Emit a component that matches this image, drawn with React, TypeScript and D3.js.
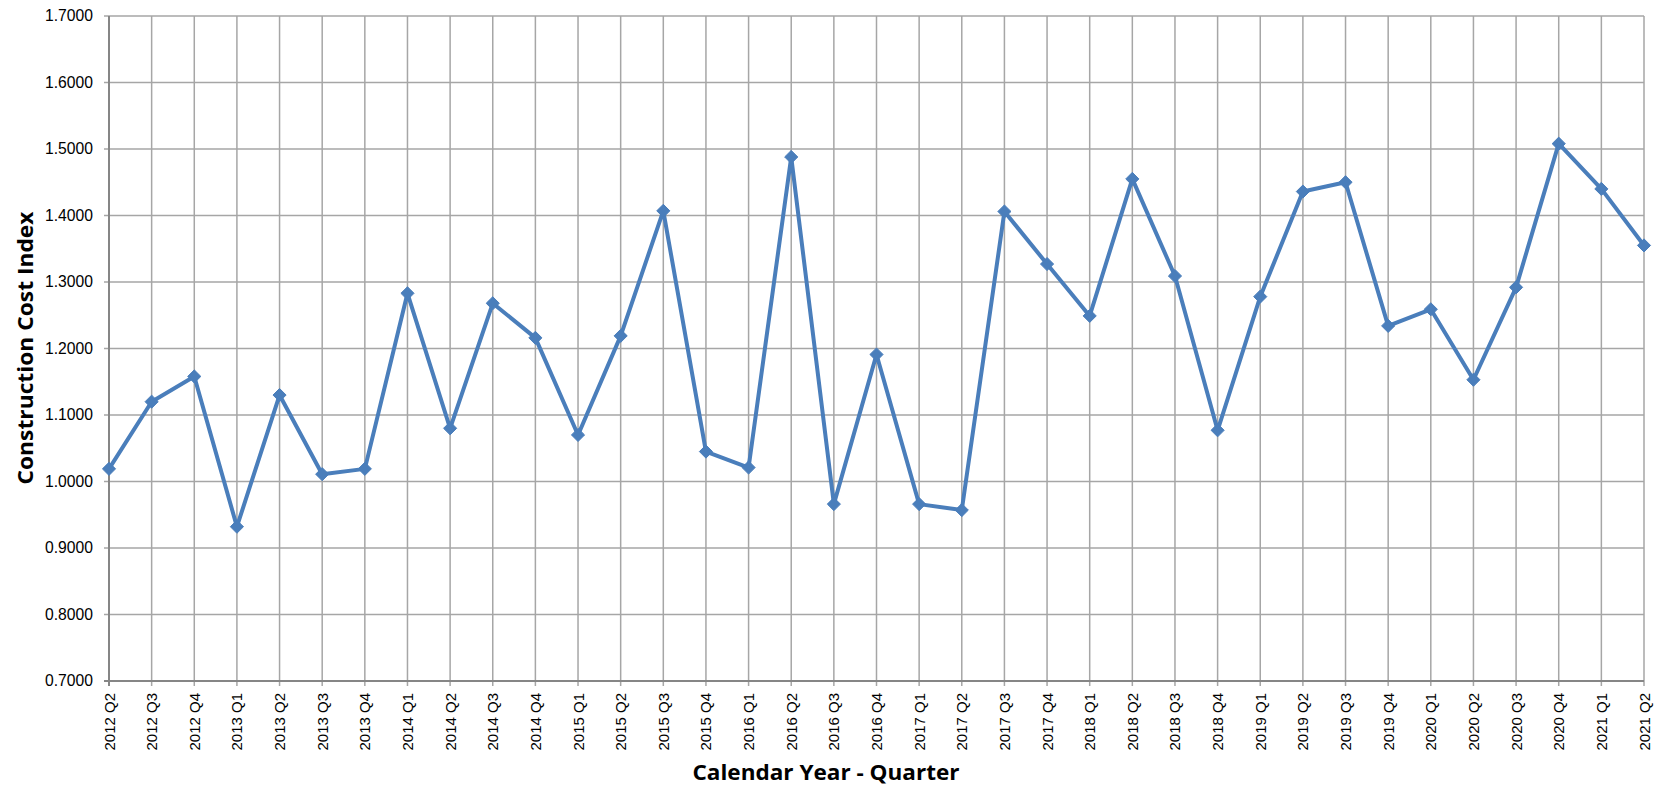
import * as d3 from "d3";
import React, { useEffect, useRef } from "react";

// trimestres del eje X
const quarters = [
  "2012 Q2", "2012 Q3", "2012 Q4",
  "2013 Q1", "2013 Q2", "2013 Q3", "2013 Q4",
  "2014 Q1", "2014 Q2", "2014 Q3", "2014 Q4",
  "2015 Q1", "2015 Q2", "2015 Q3", "2015 Q4",
  "2016 Q1", "2016 Q2", "2016 Q3", "2016 Q4",
  "2017 Q1", "2017 Q2", "2017 Q3", "2017 Q4",
  "2018 Q1", "2018 Q2", "2018 Q3", "2018 Q4",
  "2019 Q1", "2019 Q2", "2019 Q3", "2019 Q4",
  "2020 Q1", "2020 Q2", "2020 Q3", "2020 Q4",
  "2021 Q1", "2021 Q2",
];

// indice de costo de construccion
const costIndex = [
  1.019, 1.12, 1.158,
  0.932, 1.13, 1.011, 1.019,
  1.283, 1.08, 1.268, 1.216,
  1.07, 1.219, 1.407, 1.045,
  1.021, 1.488, 0.966, 1.191,
  0.966, 0.957, 1.406, 1.327,
  1.249, 1.455, 1.309, 1.077,
  1.278, 1.436, 1.45, 1.234,
  1.259, 1.153, 1.292, 1.508,
  1.44, 1.355,
];

const yTicks = [0.7, 0.8, 0.9, 1.0, 1.1, 1.2, 1.3, 1.4, 1.5, 1.6, 1.7];

const App = () => {
  const svgRef = useRef<SVGSVGElement>(null);

  useEffect(() => {
    const w = 1659;
    const h = 788;
    const left = 109;
    const right = 1644;
    const top = 16;
    const bottom = 681;

    const svg = d3.select(svgRef.current).attr("width", w).attr("height", h);
    svg.selectAll("*").remove();

    const xScale = d3.scalePoint<string>().domain(quarters).range([left, right]);
    const yScale = d3.scaleLinear().domain([0.7, 1.7]).range([bottom, top]);

    // rejilla horizontal
    svg.append("g")
      .selectAll("line")
      .data(yTicks)
      .enter()
      .append("line")
      .attr("x1", left - 5)
      .attr("x2", right)
      .attr("y1", d => yScale(d))
      .attr("y2", d => yScale(d))
      .attr("stroke", "#a6a6a6")
      .attr("stroke-width", 1.5);

    // rejilla vertical
    svg.append("g")
      .selectAll("line")
      .data(quarters)
      .enter()
      .append("line")
      .attr("x1", d => xScale(d)!)
      .attr("x2", d => xScale(d)!)
      .attr("y1", top)
      .attr("y2", bottom + 5)
      .attr("stroke", "#a6a6a6")
      .attr("stroke-width", 1.5);

    // ejes
    svg.append("line")
      .attr("x1", left).attr("x2", left)
      .attr("y1", top).attr("y2", bottom + 5)
      .attr("stroke", "#868686").attr("stroke-width", 2);
    svg.append("line")
      .attr("x1", left - 5).attr("x2", right)
      .attr("y1", bottom).attr("y2", bottom)
      .attr("stroke", "#868686").attr("stroke-width", 2);

    // etiquetas Y
    svg.append("g")
      .selectAll("text")
      .data(yTicks)
      .enter()
      .append("text")
      .attr("x", 93)
      .attr("y", d => yScale(d))
      .attr("dy", "0.35em")
      .attr("text-anchor", "end")
      .attr("font-family", "Liberation Sans, Arial, sans-serif")
      .attr("font-size", "15.7px")
      .attr("fill", "#000")
      .text(d => d3.format(".4f")(d));

    // etiquetas X
    svg.append("g")
      .selectAll("text")
      .data(quarters)
      .enter()
      .append("text")
      .attr("transform", d => `translate(${xScale(d)! + 5.5}, 693) rotate(-90)`)
      .attr("text-anchor", "end")
      .attr("font-family", "Liberation Sans, Arial, sans-serif")
      .attr("font-size", "15px")
      .attr("fill", "#000")
      .text(d => d);

    // titulos
    svg.append("text")
      .attr("x", 826)
      .attr("y", 780)
      .attr("text-anchor", "middle")
      .attr("font-family", "Open Sans, sans-serif")
      .attr("font-weight", "bold")
      .attr("font-size", "22px")
      .attr("textLength", 267)
      .attr("lengthAdjust", "spacingAndGlyphs")
      .text("Calendar Year - Quarter");

    svg.append("text")
      .attr("transform", `translate(33, 348) rotate(-90)`)
      .attr("text-anchor", "middle")
      .attr("font-family", "Open Sans, sans-serif")
      .attr("font-weight", "bold")
      .attr("font-size", "22px")
      .attr("textLength", 273)
      .attr("lengthAdjust", "spacingAndGlyphs")
      .text("Construction Cost Index");

    // linea
    const line = d3.line<number>()
      .x((_, i) => xScale(quarters[i])!)
      .y(d => yScale(d));

    svg.append("path")
      .datum(costIndex)
      .attr("d", line)
      .attr("fill", "none")
      .attr("stroke", "#4a7ebb")
      .attr("stroke-width", 4)
      .attr("stroke-linejoin", "round");

    // marcadores de diamante
    const diamond = d3.symbol().type(d3.symbolDiamond2).size(110);
    svg.append("g")
      .selectAll("path")
      .data(costIndex)
      .enter()
      .append("path")
      .attr("d", diamond)
      .attr("transform", (d, i) => `translate(${xScale(quarters[i])}, ${yScale(d)})`)
      .attr("fill", "#4a7ebb")
      .attr("stroke", "#4a7ebb")
      .attr("stroke-width", 1);
  }, []);

  return <svg ref={svgRef} style={{ position: "absolute", left: 0, top: 0 }} />;
};

export default App;
